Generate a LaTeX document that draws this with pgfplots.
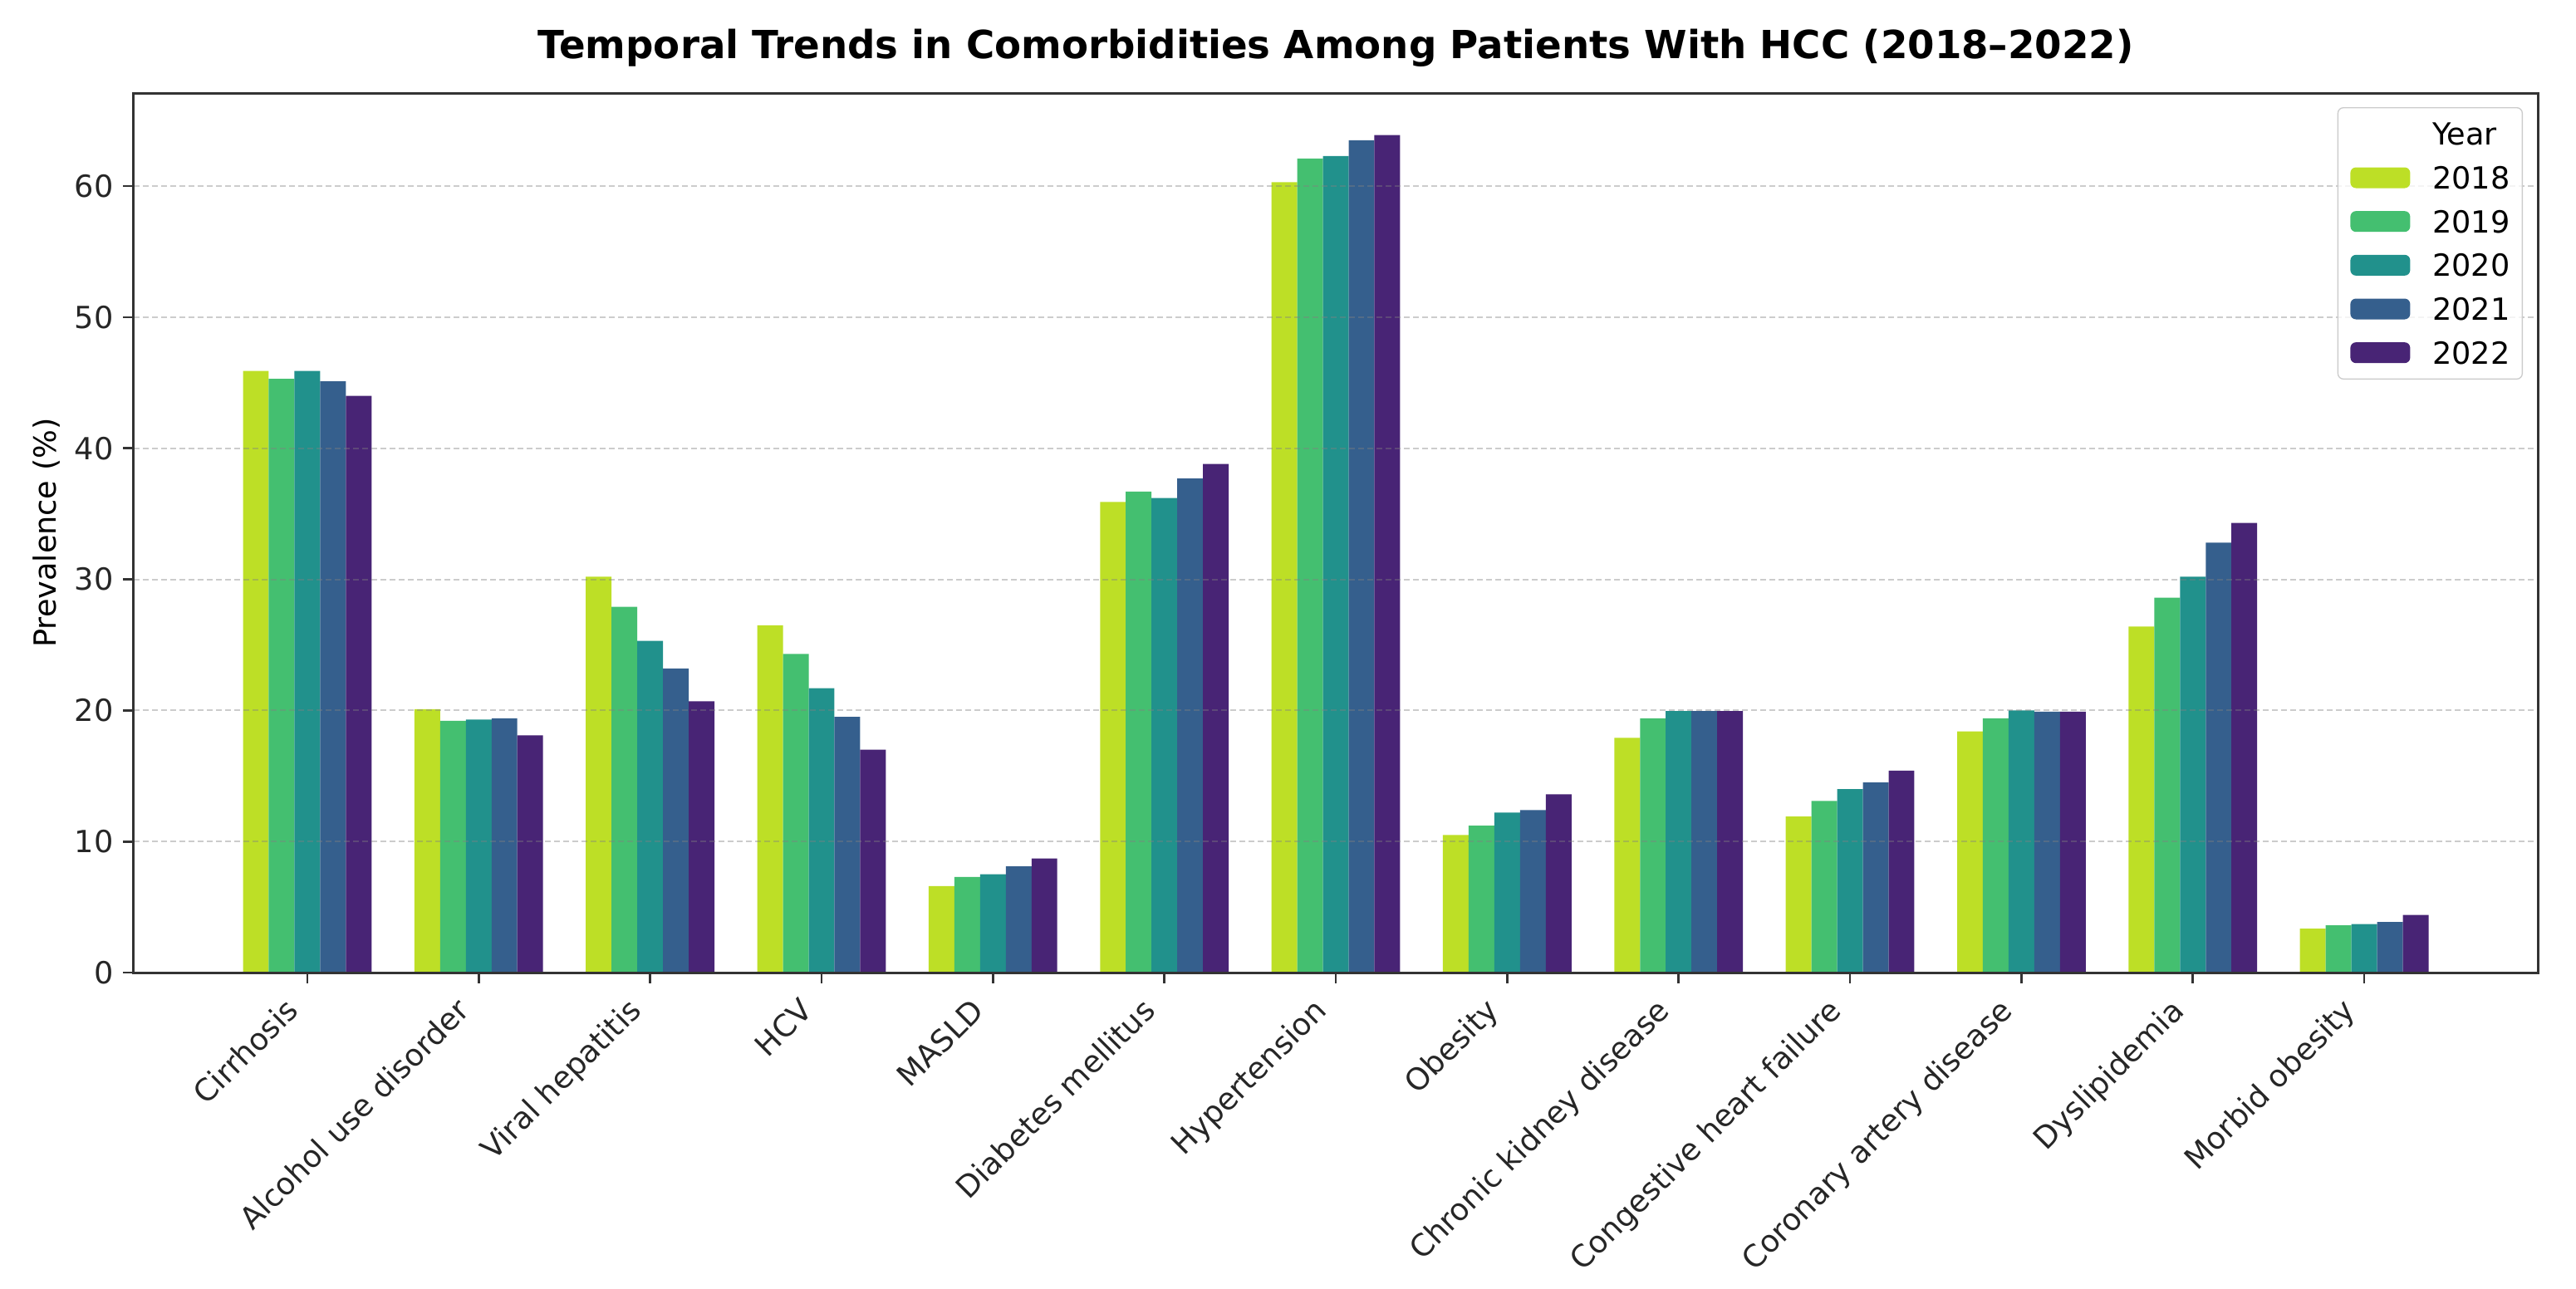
\documentclass[border=0pt]{standalone}
\usepackage{pgfplots}
\usepackage{pgfplotstable}
\pgfplotsset{compat=1.18}
\usepackage{fontspec}
\setmainfont{DejaVu Sans}
\definecolor{c18}{HTML}{BDDF26}
\definecolor{c19}{HTML}{44BF70}
\definecolor{c20}{HTML}{21918C}
\definecolor{c21}{HTML}{355F8D}
\definecolor{c22}{HTML}{482475}
\pgfplotstableread{
x  a     b     c     d     e
0  45.9  45.3  45.9  45.1  44.0
1  20.1  19.2  19.3  19.4  18.1
2  30.2  27.9  25.3  23.2  20.7
3  26.5  24.3  21.7  19.5  17.0
4  6.6   7.3   7.5   8.1   8.7
5  35.9  36.7  36.2  37.7  38.8
6  60.3  62.1  62.3  63.5  63.9
7  10.5  11.2  12.2  12.4  13.6
8  17.9  19.4  19.95 19.95 19.95
9  11.9  13.1  14.0  14.5  15.4
10 18.4  19.4  20.0  19.9  19.9
11 26.4  28.6  30.2  32.8  34.3
12 3.35  3.6   3.7   3.85  4.4
}\datatable
\begin{document}
\begin{tikzpicture}
\begin{axis}[
  at={(0pt,0pt)}, anchor=south west,
  width=868.2pt, height=317.7pt, scale only axis,
  ybar=0pt, bar width=0.15,
  xmin=-1.0125, xmax=13.0125, ymin=0, ymax=67.1,
  xtick={0,...,12},
  xticklabels={Cirrhosis, Alcohol use disorder, Viral hepatitis, HCV, MASLD, Diabetes mellitus, Hypertension, Obesity, Chronic kidney disease, Congestive heart failure, Coronary artery disease, Dyslipidemia, Morbid obesity},
  ytick={0,10,...,60},
  /pgf/number format/assume math mode=true,
  tick pos=left, tick align=outside, major tick length=3.8pt,
  tick style={black!80, line width=0.8pt},
  axis line style={black!80, line width=0.9pt},
  axis on top,
  ymajorgrids,
  major grid style={dash pattern=on 2.2pt off 1.1pt, gray, opacity=0.4, line width=0.6pt},
  ticklabel style={font=\fontsize{11}{13}\selectfont, text=black!85},
  xticklabel style={xshift=-2.5pt, yshift=-10.5pt, rotate=45, anchor=base east, inner sep=0pt},
  yticklabel style={anchor=east},
  title={Temporal Trends in Comorbidities Among Patients With HCC (2018--2022)},
  title style={font=\bfseries\fontsize{14}{17}\selectfont, at={(axis description cs:0.5,1)}, anchor=base, yshift=6.4pt, inner sep=0pt},
  ylabel={Prevalence (\%)},
  every axis y label/.style={at={(axis description cs:0,0.5)}, xshift=-27.9pt, rotate=90, anchor=base, font=\fontsize{11}{13}\selectfont},
  legend style={at={(axis description cs:1,1)}, anchor=north east, xshift=-5.4pt, yshift=-5.1pt,
    draw=black!20, rounded corners=2pt, fill=white, fill opacity=0.8, text opacity=1,
    font=\fontsize{11}{13}\selectfont, inner xsep=4.5pt, inner ysep=5.5pt,
    nodes={inner sep=0pt, text height=8pt, text depth=0pt}, row sep=7.8pt, column sep=8pt},
  legend cell align=left,
  legend image code/.code={\fill[#1, draw=none, fill opacity=1] (0pt,-3.75pt) rectangle (21.6pt,3.75pt);},
]
\addlegendimage{empty legend}
\addlegendentry{Year}
\addplot[fill=c18, draw=none] table[x=x, y=a] {\datatable};
\addlegendentry{2018}
\addplot[fill=c19, draw=none] table[x=x, y=b] {\datatable};
\addlegendentry{2019}
\addplot[fill=c20, draw=none] table[x=x, y=c] {\datatable};
\addlegendentry{2020}
\addplot[fill=c21, draw=none] table[x=x, y=d] {\datatable};
\addlegendentry{2021}
\addplot[fill=c22, draw=none] table[x=x, y=e] {\datatable};
\addlegendentry{2022}
\end{axis}
\pgfresetboundingbox
\useasboundingbox (-48.3pt,-114pt) rectangle (882pt,351.3pt);
\end{tikzpicture}
\end{document}
